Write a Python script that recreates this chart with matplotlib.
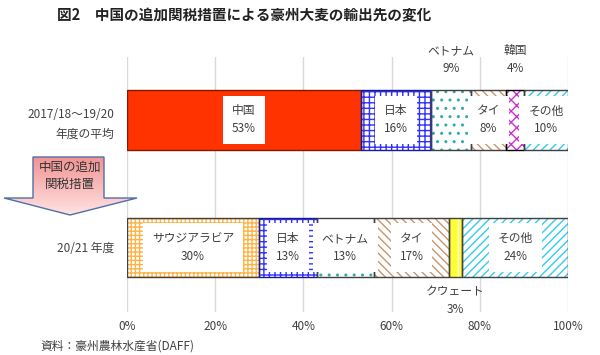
import numpy as np
import matplotlib
matplotlib.use("Agg")
from matplotlib import pyplot as plt
from matplotlib.patches import Polygon
from matplotlib.colors import LinearSegmentedColormap

plt.rcParams['font.family'] = ['Noto Sans CJK JP', 'DejaVu Sans']
plt.rcParams['hatch.linewidth'] = 1.0

# Data
title = '図2　中国の追加関税措置による豪州大麦の輸出先の変化'
row_labels = ['20/21 年度', '2017/18～19/20\n年度の平均']
top_names = ['中国', '日本', 'ベトナム', 'タイ', '韓国', 'その他']
top_values = [53, 16, 9, 8, 4, 10]
bottom_names = ['サウジアラビア', '日本', 'ベトナム', 'タイ', 'クウェート', 'その他']
bottom_values = [30, 13, 13, 17, 3, 24]
x_ticks = [0, 20, 40, 60, 80, 100]
source = '資料：豪州農林水産省(DAFF)'

# Styles per country: (face, hatch, hatch colour, outline)
styles = {
    '中国': ('#FF3300', None, '#FF3300', '#7F1A00'),
    '日本': ('white', '+++', '#3333FF', '#1A1A8C'),
    'ベトナム': ('white', '..', '#33AAAA', '#404040'),
    'タイ': ('white', '\\\\\\\\', '#C8956B', '#404040'),
    '韓国': ('white', 'xxx', '#CC33CC', '#000000'),
    'その他': ('white', '////', '#33CCEE', '#404040'),
    'サウジアラビア': ('white', '++++', '#FFB347', '#404040'),
    'クウェート': ('#FFFF33', '|', 'white', '#404040'),
}
# labels drawn outside the bar: (row, name) -> side
outside = {(1, 'ベトナム'): 'top', (1, '韓国'): 'top', (0, 'クウェート'): 'bottom'}

fig = plt.figure(figsize=(6, 3.55), dpi=100)
ax = fig.add_axes([127 / 600, 1 - 312 / 355, 441 / 600, 255 / 355])

bar_h = 0.47
text_c = '#404040'

for row, (names, vals) in enumerate([(bottom_names, bottom_values), (top_names, top_values)]):
    left = 0
    for name, v in zip(names, vals):
        fc, hatch, hc, ec = styles[name]
        ax.barh(row, v, left=left, height=bar_h, color=fc, hatch=hatch,
                edgecolor=hc, linewidth=0, zorder=2)
        ax.barh(row, v, left=left, height=bar_h, color='none',
                edgecolor=ec, linewidth=1.0, zorder=3)
        cx = left + v / 2
        label = f'{name}\n{v}%'
        side = outside.get((row, name))
        if side == 'top':
            ax.text(cx, row + bar_h / 2 + 0.12, label, ha='center', va='bottom',
                    fontsize=8.5, color=text_c, linespacing=1.5)
        elif side == 'bottom':
            ax.text(cx, row - bar_h / 2 - 0.06, label, ha='center', va='top',
                    fontsize=8.5, color=text_c, linespacing=1.5)
        else:
            ax.text(cx, row, label, ha='center', va='center', fontsize=8.5,
                    color=text_c, linespacing=1.5, zorder=4,
                    bbox=dict(boxstyle='square,pad=0.75', fc='white', ec='none'))
        left += v

ax.set_xlim(0, 100)
ax.set_ylim(-0.506, 1.494)
ax.set_xticks(x_ticks)
ax.set_xticklabels([f'{t}%' for t in x_ticks], fontsize=8.5, color=text_c)
ax.set_yticks([0, 1])
ax.set_yticklabels(row_labels, fontsize=8.5, color=text_c, linespacing=1.6)
ax.tick_params(length=0, pad=9)
ax.tick_params(axis='x', pad=6)
for s in ax.spines.values():
    s.set_visible(False)
ax.grid(axis='x', color='#D9D9D9', linewidth=1, zorder=0)
ax.set_axisbelow(True)

fig.text(244 / 600, 1 - 15 / 355, title, ha='center', va='center',
         fontsize=10.5, fontweight='bold', color='#222222')
fig.text(40 / 600, 1 - 346 / 355, source, ha='left', va='center',
         fontsize=8.5, color=text_c)

# Block arrow with gradient
ov = fig.add_axes([0, 0, 1, 1], zorder=5)
ov.set_xlim(0, 600)
ov.set_ylim(355, 0)
ov.axis('off')
pts = [(33, 157), (104, 157), (104, 198), (137, 198), (70, 215),
       (4, 198), (33, 198)]
arrow = Polygon(pts, closed=True, fc='none', ec='#4F6FA8', lw=1.0, zorder=3)
ov.add_patch(arrow)
cmap = LinearSegmentedColormap.from_list('pink', ['#F29393', '#FFE3E3'])
grad = np.linspace(0, 1, 100).reshape(-1, 1)
im = ov.imshow(grad, cmap=cmap, extent=(4, 137, 215, 157), aspect='auto', zorder=2)
im.set_clip_path(arrow)
ov.text(70, 176, '中国の追加\n関税措置', ha='center', va='center',
        fontsize=9, color='#333333', linespacing=1.4, zorder=4)
ov.set_xlim(0, 600)
ov.set_ylim(355, 0)

fig.savefig('out.png', dpi=100)
